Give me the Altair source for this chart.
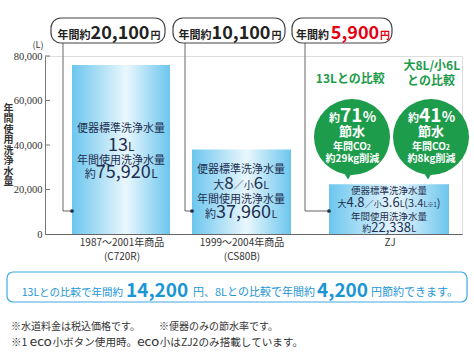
import altair as alt
import pandas as pd

# ---------------- data ----------------
CATEGORIES = ["1987～2001年商品", "1999～2004年商品", "ZJ"]
MODELS = ["(C720R)", "(CS80B)", ""]
ANNUAL_WATER = [75920, 37960, 22338]          # 年間使用洗浄水量 (L)
ANNUAL_COST = ["20,100", "10,100", "5,900"]   # 年間約 … 円
FLUSH_LINES = [
    [("13", "big"), ("L", "unit")],
    [("大", "small"), ("8", "big"), ("／", "mid"), ("小", "small"), ("6", "big"), ("L", "unit")],
    [("大", "small"), ("4.8", "big"), ("／", "mid"), ("小", "small"), ("3.6", "big"), ("L", "unit"),
     ("(3.4", "mid2"), ("L", "unit2"), ("※1", "tiny"), (")", "mid2")],
]
WATER_TEXT = ["75,920", "37,960", "22,338"]
SAVING_HEAD = [["13Lとの比較"], ["大8L/小6L", "との比較"]]
SAVING_PCT = ["71", "41"]
SAVING_CO2 = ["約29kg削減", "約8kg削減"]
Y_TICKS = [0, 20000, 40000, 60000, 80000]
Y_TITLE = "年間使用洗浄水量"
SUMMARY = [("13Lとの比較で年間約", "s"), ("14,200", "b"), ("円、8Lとの比較で年間約", "s"),
           ("4,200", "b"), ("円節約できます。", "s")]
NOTE1 = ["※水道料金は税込価格です。", "※便器のみの節水率です。"]
NOTE2 = [("※1 ", "n"), ("eco", "e"), ("小ボタン使用時。", "n"), ("eco", "e"),
         ("小はZJ2のみ搭載しています。", "n")]

# ---------------- layout ----------------
OX, OY = 45, 56            # plot origin in page pixels
PW, PH = 417, 178          # plot size
BAR_SPAN = [(72, 170), (192, 291), (329, 449)]   # page-x extents of the bars
BAR_CX = [121, 241, 389]
BOX = [(51, 165), (173, 285), (292, 392)]
LINE_X = [63, 185, 305]
FONT = "Noto Sans CJK JP"
NAVY = "#1e2f4f"
GREEN = "#1d9c4c"
BLUE = "#1b96d5"
RED = "#e50012"
DARK = "#333333"

CW = {",": 0.28, ".": 0.28, "L": 0.5, "%": 0.88, "k": 0.52, "g": 0.56, "C": 0.64,
      "O": 0.74, "Z": 0.56, "J": 0.44, "(": 0.34, ")": 0.34, " ": 0.22, "/": 0.4,
      "e": 0.55, "c": 0.5, "o": 0.56}


def text_w(s, size, weight="normal"):
    w = 0.0
    for c in s:
        if c.isdigit():
            w += 0.6 if weight == "bold" else 0.56
        elif c in CW:
            w += CW[c]
        elif ord(c) > 0x2E80 or c in "～／※、。":
            w += 1.0
        else:
            w += 0.55
    return w * size


def tmark(s, x, y, size, weight="normal", color=DARK, align="left", font=FONT):
    return alt.Chart().mark_text(
        align=align, baseline="alphabetic", font=font, fontSize=size,
        fontWeight=weight, color=color
    ).encode(x=alt.value(x - OX), y=alt.value(y - OY), text=alt.value(s))


def run(pieces, x, y, align="center", color=DARK, weight="normal"):
    """pieces: (text, size[, weight[, color[, font]]])"""
    def pw(p):
        return text_w(p[0], p[1], p[2] if len(p) > 2 else weight)
    total = sum(pw(p) for p in pieces)
    cur = x - total / 2 if align == "center" else (x - total if align == "right" else x)
    out = []
    for p in pieces:
        s, size = p[0], p[1]
        wt = p[2] if len(p) > 2 else weight
        col = p[3] if len(p) > 3 else color
        fnt = p[4] if len(p) > 4 else FONT
        out.append(tmark(s, cur, y, size, wt, col, "left", fnt))
        cur += pw(p)
    return out


def rect(x1, x2, y1, y2, **kw):
    return alt.Chart().mark_rect(**kw).encode(
        x=alt.value(x1 - OX), x2=alt.value(x2 - OX),
        y=alt.value(y1 - OY), y2=alt.value(y2 - OY))


def hline(x1, x2, y, color="#666", w=1):
    return alt.Chart().mark_rule(color=color, strokeWidth=w).encode(
        x=alt.value(x1 - OX), x2=alt.value(x2 - OX), y=alt.value(y - OY))


def vline(x, y1, y2, color="#666", w=1):
    return alt.Chart().mark_rule(color=color, strokeWidth=w).encode(
        x=alt.value(x - OX), y=alt.value(y1 - OY), y2=alt.value(y2 - OY))


def dot(x, y, size, color, shape="circle"):
    return alt.Chart().mark_point(shape=shape, filled=True, size=size, color=color,
                                  opacity=1, strokeWidth=0).encode(
        x=alt.value(x - OX), y=alt.value(y - OY))


# ---------------- bars (through scales) ----------------
bars_df = pd.DataFrame({
    "cat": CATEGORIES,
    "water": ANNUAL_WATER,
    "x0": [a - OX for a, b in BAR_SPAN],
    "x1": [b - OX for a, b in BAR_SPAN],
})
xs = alt.Scale(domain=[0, PW], nice=False, zero=False)
ys = alt.Scale(domain=[0, 80000], nice=False)

grad = alt.Gradient(
    gradient="linear",
    stops=[alt.GradientStop(color="#6cc6ee", offset=0),
           alt.GradientStop(color="#eaf7fd", offset=0.55),
           alt.GradientStop(color="#6cc6ee", offset=1)],
    x1=0, x2=1, y1=0, y2=0)

bars = alt.Chart(bars_df).mark_rect(color=grad).encode(
    x=alt.X("x0:Q", scale=xs,
            axis=alt.Axis(domainColor="#666", ticks=False, labels=False, grid=False, title=None)),
    x2="x1:Q",
    y=alt.Y("water:Q", scale=ys,
            axis=alt.Axis(values=Y_TICKS, format=",.0f", ticks=False, grid=False,
                          labelFont="Liberation Sans Narrow", labelFontSize=10.5,
                          labelColor=DARK, labelPadding=3, domainColor="#777",
                          title=list(Y_TITLE), titleAngle=0, titleX=-37, titleY=47,
                          titleAlign="center", titleBaseline="top", titleLineHeight=10.5,
                          titleFontSize=10, titleFont=FONT, titleFontWeight="bold",
                          titleColor=DARK)),
    y2=alt.datum(0),
)

ticks = alt.Chart(pd.DataFrame({"water": Y_TICKS[1:]})).mark_rule(color="#777").encode(
    x=alt.value(0), x2=alt.value(5), y=alt.Y("water:Q", scale=ys))

layers = [bars, ticks]

# (L)
layers += [tmark("(L)", 38, 48, 9, color=DARK, align="center")]

# connectors + cost boxes
for i in range(3):
    layers.append(vline(LINE_X[i], 43, 211))
    layers.append(hline(LINE_X[i], BAR_SPAN[i][0], 211))
    layers.append(dot(BAR_SPAN[i][0], 211, 14, NAVY))
    bx1, bx2 = BOX[i]
    layers.append(rect(bx1, bx2, 18, 43, fill="white", stroke="#444", strokeWidth=1.2,
                       cornerRadius=10))
    cx = (bx1 + bx2) / 2 + 1
    if i < 2:
        layers += run([("年間約", 11, "bold"), (ANNUAL_COST[i], 18, "bold"), (" ", 4, "bold"),
                       ("円", 10, "bold")], cx, 39, color="#222")
    else:
        layers += run([("年間約", 11, "bold"), (" ", 8, "bold"),
                       (ANNUAL_COST[i], 18, "bold", RED), (" ", 4, "bold"),
                       ("円", 10, "bold", RED)], cx, 39, color="#222")

# category labels
for i in range(3):
    layers.append(tmark(CATEGORIES[i], BAR_CX[i] + 1, 246, 10, color=DARK, align="center"))
    if MODELS[i]:
        layers.append(tmark(MODELS[i], BAR_CX[i] + 1, 260, 10, color=DARK, align="center"))

# bar annotations
SIZES = [
    {"hdr": 11, "big": 18, "unit": 12, "small": 11, "mid": 11, "yk": 11},
    {"hdr": 11, "big": 17, "unit": 11, "small": 11, "mid": 10, "yk": 11},
    {"hdr": 9.5, "big": 13, "unit": 9, "small": 9, "mid": 9, "mid2": 11, "unit2": 8,
     "tiny": 6, "yk": 9},
]
BASE = [(132, 151, 164, 178), (173, 189, 203, 218), (194, 207, 220, 232)]
for i in range(3):
    sz = SIZES[i]
    b = BASE[i]
    cx = BAR_CX[i]
    layers += run([("便器標準洗浄水量", sz["hdr"])], cx, b[0], color=NAVY)
    pieces = []
    for s, role in FLUSH_LINES[i]:
        size = sz[role]
        if i == 1 and s == "小":
            size = 10
        if i == 2 and s == "小":
            size = 8
        pieces.append((s, size))
    layers += run(pieces, cx, b[1], color=NAVY)
    layers += run([("年間使用洗浄水量", sz["hdr"])], cx, b[2], color=NAVY)
    bigw = [18, 18, 13][i]
    layers += run([("約", sz["yk"]), (WATER_TEXT[i], bigw), ("L", sz["unit"])], cx, b[3],
                  color=NAVY)

# green comparison bubbles
CIRC = [(352, 137), (431, 137)]
PTR = [348, 428]
layers += run([(SAVING_HEAD[0][0], 12, "bold")], 350, 83, color=GREEN)
layers += run([(SAVING_HEAD[1][0], 12, "bold")], 431, 70, color=GREEN)
layers += run([(SAVING_HEAD[1][1], 12, "bold")], 431, 85, color=GREEN)
for i in range(2):
    cx, cy = CIRC[i]
    layers.append(dot(cx, cy, 76 * 76, GREEN))
    layers.append(dot(PTR[i], 176, 70, GREEN, shape="triangle-down"))
    layers += run([("約", 11, "bold"), (SAVING_PCT[i], 19, "bold"), ("%", 14, "bold")],
                  cx, 122, color="white")
    layers += run([("節水", 13, "bold")], cx, 136, color="white")
    layers += run([("年間CO", 10, "bold"), ("2", 7, "bold")], cx, 150, color="white")
    layers += run([(SAVING_CO2[i], 10, "bold")], cx, 162, color="white")

# summary box
layers.append(rect(7, 467, 272, 302, filled=False, color="#3fa9e0", strokeWidth=1.2,
                   cornerRadius=6))
SUM_X = [(123, "right", 10.5), (126, "left", 19), (193, "left", 11), (317, "left", 19),
         (371, "left", 11)]
for (s, kind), (px, al, fs) in zip(SUMMARY, SUM_X):
    if kind == "b":
        layers.append(tmark(s, px, 297, fs, "bold", BLUE, al))
    else:
        layers.append(tmark(s, px, 296, fs, "normal", BLUE, al))

# footnotes
layers.append(tmark(NOTE1[0], 11, 330, 10, color=DARK))
layers.append(tmark(NOTE1[1], 159, 330, 10, color=DARK))
layers += run([(s, 14 if k == "e" else 10.6, "normal", DARK, "Lato" if k == "e" else FONT)
               for s, k in NOTE2], 11, 346, align="left", color=DARK)

chart = alt.layer(*layers, data=pd.DataFrame({"_": [0]})).properties(
    width=PW, height=PH,
    autosize=alt.AutoSizeParams(type="none"),
    padding={"left": OX, "top": OY, "right": 474 - OX - PW, "bottom": 356 - OY - PH},
).configure_view(stroke=None).configure(background="white")

chart.save("out.html", embed_options={"renderer": "svg", "actions": False})
